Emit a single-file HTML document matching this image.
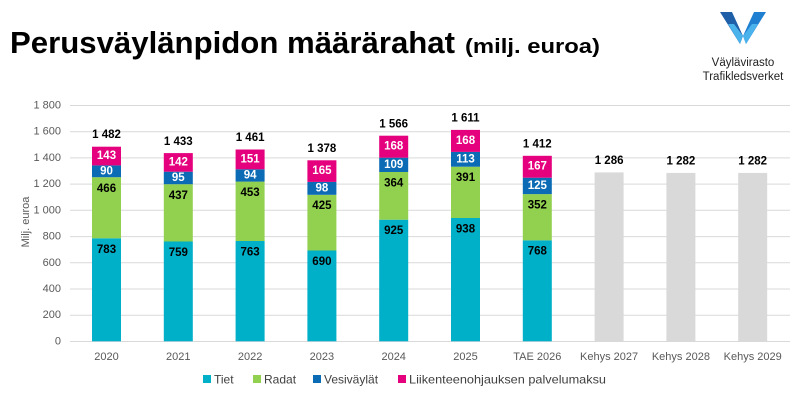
<!DOCTYPE html>
<html><head><meta charset="utf-8"><style>
body{margin:0;background:#fff;width:800px;height:401px;overflow:hidden}
svg{font-family:"Liberation Sans",Verdana,sans-serif;display:block}
.t{font-size:11.5px;font-weight:bold;text-anchor:middle;dominant-baseline:central}
.w{fill:#fff}
.ax{font-size:11px;fill:#595959}
</style></head><body>
<svg width="800" height="401" viewBox="0 0 800 401">
<text x="10" y="53" font-size="31" font-weight="bold" fill="#000" textLength="445" lengthAdjust="spacingAndGlyphs">Perusväylänpidon määrärahat</text>
<text x="465" y="53" font-size="20" font-weight="bold" fill="#000" textLength="135" lengthAdjust="spacingAndGlyphs">(milj. euroa)</text>
<!-- logo -->
<polygon points="720,12 732,12 743,36 740,44" fill="#1f5fa8"/>
<polygon points="766,12 754,12 743,36 746,44" fill="#1f7fd0"/>
<polygon points="728,24 740,44 743,36 734,24" fill="#4ab3ec"/>
<polygon points="758,24 746,44 743,36 752,24" fill="#4ab3ec"/>
<text x="743" y="66" font-size="11.5" text-anchor="middle" fill="#222">Väylävirasto</text>
<text x="743" y="80" font-size="11.5" text-anchor="middle" fill="#222">Trafikledsverket</text>
<!-- grid -->
<g stroke="#d9d9d9" stroke-width="1">
<line x1="70" x2="790" y1="105.5" y2="105.5"/><line x1="70" x2="790" y1="131.7" y2="131.7"/>
<line x1="70" x2="790" y1="157.9" y2="157.9"/><line x1="70" x2="790" y1="184.1" y2="184.1"/>
<line x1="70" x2="790" y1="210.3" y2="210.3"/><line x1="70" x2="790" y1="236.6" y2="236.6"/>
<line x1="70" x2="790" y1="262.8" y2="262.8"/><line x1="70" x2="790" y1="289" y2="289"/>
<line x1="70" x2="790" y1="315.2" y2="315.2"/><line x1="70" x2="790" y1="341.5" y2="341.5"/>
</g>
<g class="ax" text-anchor="end" dominant-baseline="central">
<text x="61" y="105.5">1 800</text><text x="61" y="131.7">1 600</text><text x="61" y="157.9">1 400</text>
<text x="61" y="184.1">1 200</text><text x="61" y="210.3">1 000</text><text x="61" y="236.6">800</text>
<text x="61" y="262.8">600</text><text x="61" y="289">400</text><text x="61" y="315.2">200</text><text x="61" y="341.5">0</text>
</g>
<text class="ax" transform="translate(26,222) rotate(-90)" text-anchor="middle" dominant-baseline="central">Milj. euroa</text>
<g class="ax" text-anchor="middle">
<text x="106.5" y="360">2020</text><text x="178.3" y="360">2021</text><text x="250.1" y="360">2022</text>
<text x="321.9" y="360">2023</text><text x="393.7" y="360">2024</text><text x="465.5" y="360">2025</text>
<text x="537.3" y="360">TAE 2026</text><text x="609.1" y="360">Kehys 2027</text><text x="680.9" y="360">Kehys 2028</text><text x="752.7" y="360">Kehys 2029</text>
</g>
<!-- bars -->
<g>
<rect x="92" y="238.3" width="29" height="103" fill="#00afc8"/><rect x="92" y="177.2" width="29" height="61.1" fill="#92d050"/><rect x="92" y="165.4" width="29" height="11.8" fill="#0b6bb5"/><rect x="92" y="146.7" width="29" height="18.7" fill="#e5007d"/>
<rect x="163.8" y="241.5" width="29" height="99.8" fill="#00afc8"/><rect x="163.8" y="184.2" width="29" height="57.3" fill="#92d050"/><rect x="163.8" y="171.7" width="29" height="12.5" fill="#0b6bb5"/><rect x="163.8" y="153.1" width="29" height="18.6" fill="#e5007d"/>
<rect x="235.6" y="241" width="29" height="100.3" fill="#00afc8"/><rect x="235.6" y="181.6" width="29" height="59.4" fill="#92d050"/><rect x="235.6" y="169.3" width="29" height="12.3" fill="#0b6bb5"/><rect x="235.6" y="149.5" width="29" height="19.8" fill="#e5007d"/>
<rect x="307.4" y="250.5" width="29" height="90.8" fill="#00afc8"/><rect x="307.4" y="194.8" width="29" height="55.7" fill="#92d050"/><rect x="307.4" y="181.9" width="29" height="12.9" fill="#0b6bb5"/><rect x="307.4" y="160.3" width="29" height="21.6" fill="#e5007d"/>
<rect x="379.2" y="219.7" width="29" height="121.6" fill="#00afc8"/><rect x="379.2" y="172" width="29" height="47.7" fill="#92d050"/><rect x="379.2" y="157.7" width="29" height="14.3" fill="#0b6bb5"/><rect x="379.2" y="135.7" width="29" height="22" fill="#e5007d"/>
<rect x="451" y="218" width="29" height="123.3" fill="#00afc8"/><rect x="451" y="166.7" width="29" height="51.3" fill="#92d050"/><rect x="451" y="151.9" width="29" height="14.8" fill="#0b6bb5"/><rect x="451" y="129.9" width="29" height="22" fill="#e5007d"/>
<rect x="522.8" y="240.3" width="29" height="101" fill="#00afc8"/><rect x="522.8" y="194.1" width="29" height="46.2" fill="#92d050"/><rect x="522.8" y="177.7" width="29" height="16.4" fill="#0b6bb5"/><rect x="522.8" y="155.8" width="29" height="21.9" fill="#e5007d"/>
<rect x="594.6" y="172.4" width="29" height="168.9" fill="#d9d9d9"/>
<rect x="666.4" y="172.9" width="29" height="168.4" fill="#d9d9d9"/>
<rect x="738.2" y="172.9" width="29" height="168.4" fill="#d9d9d9"/>
</g>
<!-- labels -->
<g class="t">
<text x="106.5" y="250">783</text><text x="106.5" y="189">466</text><text class="w" x="106.5" y="171.5">90</text><text class="w" x="106.5" y="156">143</text><text x="106.5" y="135">1 482</text>
<text x="178.3" y="253">759</text><text x="178.3" y="196">437</text><text class="w" x="178.3" y="178">95</text><text class="w" x="178.3" y="162.4">142</text><text x="178.3" y="142">1 433</text>
<text x="250.1" y="252.5">763</text><text x="250.1" y="193">453</text><text class="w" x="250.1" y="175.5">94</text><text class="w" x="250.1" y="159.4">151</text><text x="250.1" y="138">1 461</text>
<text x="321.9" y="262">690</text><text x="321.9" y="206">425</text><text class="w" x="321.9" y="188.3">98</text><text class="w" x="321.9" y="171.1">165</text><text x="321.9" y="149">1 378</text>
<text x="393.7" y="231">925</text><text x="393.7" y="183.5">364</text><text class="w" x="393.7" y="164.8">109</text><text class="w" x="393.7" y="146.7">168</text><text x="393.7" y="124.5">1 566</text>
<text x="465.5" y="229.5">938</text><text x="465.5" y="178">391</text><text class="w" x="465.5" y="159.3">113</text><text class="w" x="465.5" y="140.9">168</text><text x="465.5" y="118.5">1 611</text>
<text x="537.3" y="251.5">768</text><text x="537.3" y="205.5">352</text><text class="w" x="537.3" y="185.9">125</text><text class="w" x="537.3" y="166.7">167</text><text x="537.3" y="144.5">1 412</text>
<text x="609.1" y="161">1 286</text><text x="680.9" y="161.5">1 282</text><text x="752.7" y="161.5">1 282</text>
</g>
<!-- legend -->
<g font-size="12" fill="#404040" dominant-baseline="central">
<rect x="203" y="375" width="8" height="8" fill="#00afc8"/><text x="214" y="379.5">Tiet</text>
<rect x="253" y="375" width="8" height="8" fill="#92d050"/><text x="264" y="379.5">Radat</text>
<rect x="313" y="375" width="8" height="8" fill="#0b6bb5"/><text x="324" y="379.5">Vesiväylät</text>
<rect x="398" y="375" width="8" height="8" fill="#e5007d"/><text x="409" y="379.5" textLength="197" lengthAdjust="spacingAndGlyphs">Liikenteenohjauksen palvelumaksu</text>
</g>
</svg>
</body></html>
